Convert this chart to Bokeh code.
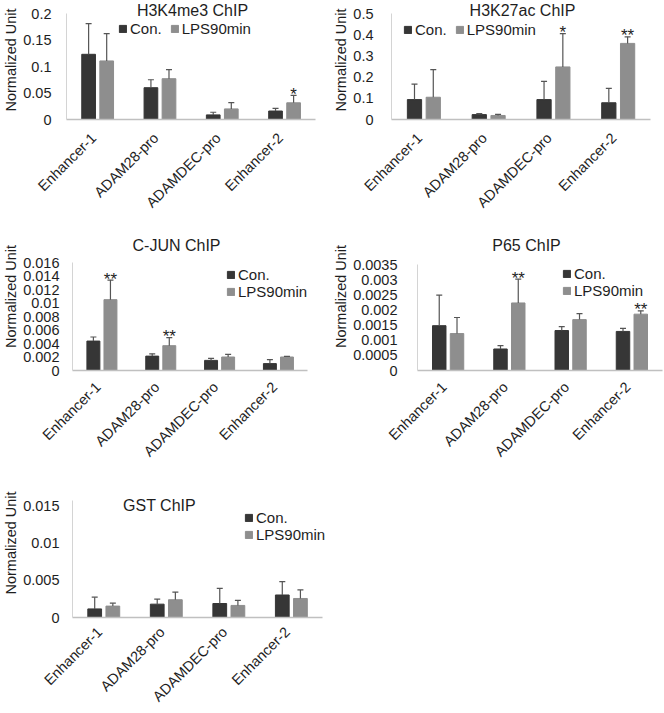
import math
from bokeh.plotting import figure
from bokeh.models import (ColumnDataSource, Range1d, FixedTicker,
                          Label, Legend, LegendItem)
from bokeh.transform import dodge
from bokeh.layouts import column, row
from bokeh.embed import file_html
from bokeh.resources import INLINE
from bokeh.core.properties import value

# ---------------- data ----------------
categories = ["Enhancer-1", "ADAM28-pro", "ADAMDEC-pro", "Enhancer-2"]
series_names = ["Con.", "LPS90min"]

h3k4me3_con = [0.123, 0.060, 0.0087, 0.016]
h3k4me3_con_err = [0.058, 0.015, 0.005, 0.005]
h3k4me3_lps = [0.1105, 0.077, 0.020, 0.0315]
h3k4me3_lps_err = [0.0515, 0.017, 0.012, 0.014]
h3k4me3_sig = ["", "", "", "*"]
h3k4me3_ticks = [0, 0.05, 0.1, 0.15, 0.2]
h3k4me3_tick_labels = ["0", "0.05", "0.1", "0.15", "0.2"]

h3k27ac_con = [0.094, 0.023, 0.094, 0.079]
h3k27ac_con_err = [0.073, 0.005, 0.086, 0.068]
h3k27ac_lps = [0.105, 0.019, 0.248, 0.359]
h3k27ac_lps_err = [0.13, 0.005, 0.157, 0.031]
h3k27ac_sig = ["", "", "*", "**"]
h3k27ac_ticks = [0, 0.1, 0.2, 0.3, 0.4, 0.5]
h3k27ac_tick_labels = ["0", "0.1", "0.2", "0.3", "0.4", "0.5"]

cjun_con = [0.00436, 0.00213, 0.0015, 0.00102]
cjun_con_err = [0.0006, 0.00034, 0.0003, 0.0006]
cjun_lps = [0.0105, 0.00368, 0.0020, 0.0020]
cjun_lps_err = [0.0029, 0.0012, 0.0004, 0.0001]
cjun_sig = ["**", "**", "", ""]
cjun_ticks = [0, 0.002, 0.004, 0.006, 0.008, 0.01, 0.012, 0.014, 0.016]
cjun_tick_labels = ["0", "0.002", "0.004", "0.006", "0.008", "0.01", "0.012", "0.014", "0.016"]

p65_con = [0.00148, 0.00071, 0.00132, 0.00129]
p65_con_err = [0.00101, 0.00011, 0.00013, 0.0001]
p65_lps = [0.00122, 0.00223, 0.00168, 0.00186]
p65_lps_err = [0.00053, 0.00079, 0.0002, 0.00011]
p65_sig = ["", "**", "", "**"]
p65_ticks = [0, 0.0005, 0.001, 0.0015, 0.002, 0.0025, 0.003, 0.0035]
p65_tick_labels = ["0", "0.0005", "0.001", "0.0015", "0.002", "0.0025", "0.003", "0.0035"]

gst_con = [0.00116, 0.0018, 0.00189, 0.00304]
gst_con_err = [0.00158, 0.00069, 0.00205, 0.0018]
gst_lps = [0.00154, 0.0024, 0.00163, 0.00257]
gst_lps_err = [0.00039, 0.00103, 0.00068, 0.00116]
gst_sig = ["", "", "", ""]
gst_ticks = [0, 0.005, 0.01, 0.015]
gst_tick_labels = ["0", "0.005", "0.01", "0.015"]

# ---------------- style ----------------
FONT = "Liberation Sans"
DARK = "#363636"
LIGHT = "#8e8e8e"
ERR = "#555555"
TXT = "#1e1e1e"
OFF = 0.145
BAR_W = 0.22
LABEL_SHIFT = -0.065   # nudges the slanted category labels a little to the left


def make_panel(title, con, con_err, lps, lps_err, sig, y_axis_max, ticks, tick_labels,
               fig, axis_box, title_c, leg, ytick_standoff, xlab_standoff):
    # fig: (left, top, width, height) of the figure on the page
    # axis_box: (axis left x, axis right x, y of axis max, y of zero) on the page
    fl, ft, fw, fh = fig
    AL, AR, AT, AB = axis_box
    L, R, T, B = AL, fl + fw, ft, AB          # frame fills the panel top/right
    n = len(categories)
    x_end = n * (R - AL) / (AR - AL)
    y_end = y_axis_max * (B - T) / (AB - AT)
    p = figure(x_range=Range1d(0, x_end), y_range=Range1d(0, y_end),
               width=fw, height=fh, title=None,
               output_backend="svg", toolbar_location=None,
               min_border_left=L - fl, min_border_right=0,
               min_border_top=0, min_border_bottom=ft + fh - B)
    p.outline_line_color = None
    p.background_fill_color = "white"
    p.border_fill_color = "white"
    p.xgrid.visible = False
    p.ygrid.visible = False

    xpos = [i + 0.5 for i in range(n)]
    src = ColumnDataSource(dict(
        x=xpos, con=con, lps=lps,
        con_top=[v + e for v, e in zip(con, con_err)],
        lps_top=[v + e for v, e in zip(lps, lps_err)],
        sig=sig))
    xc = dodge("x", -OFF)
    xl = dodge("x", OFF)

    r_con = p.vbar(x=xc, top="con", width=BAR_W, source=src,
                   fill_color=DARK, line_color=DARK)
    r_lps = p.vbar(x=xl, top="lps", width=BAR_W, source=src,
                   fill_color=LIGHT, line_color=LIGHT)
    for xx, y0, y1 in ((xc, "con", "con_top"), (xl, "lps", "lps_top")):
        p.segment(x0=xx, y0=y0, x1=xx, y1=y1, source=src,
                  line_color=ERR, line_width=1.2)
        p.scatter(x=xx, y=y1, marker="dash", size=6, source=src,
                  line_color=ERR, line_width=1.2)
    p.text(x=xl, y="lps_top", text="sig", source=src, text_align="center",
           text_baseline="alphabetic", y_offset=-1,
           text_font=value(FONT), text_font_size="17px", text_color=TXT)

    # y axis
    p.yaxis.bounds = (0, y_axis_max)
    p.yaxis.ticker = FixedTicker(ticks=ticks)
    p.yaxis.major_label_overrides = dict(zip(ticks, tick_labels))
    p.yaxis.axis_label = "Normalized Unit"
    p.yaxis.axis_label_text_font = FONT
    p.yaxis.axis_label_text_font_size = "14.5px"
    p.yaxis.axis_label_text_font_style = "normal"
    p.yaxis.axis_label_text_color = TXT
    p.yaxis.axis_label_standoff = 1
    p.yaxis.major_label_standoff = ytick_standoff
    p.yaxis.major_label_text_font = FONT
    p.yaxis.major_label_text_font_size = "14.5px"
    p.yaxis.major_label_text_color = TXT
    p.yaxis.axis_line_color = "#d4d4d4"
    p.yaxis.major_tick_line_color = None
    p.yaxis.minor_tick_line_color = None

    # x axis (categories)
    label_pos = [x + LABEL_SHIFT for x in xpos]
    p.xaxis.bounds = (0, n)
    p.xaxis.ticker = FixedTicker(ticks=label_pos)
    p.xaxis.major_label_overrides = dict(zip(label_pos, categories))
    p.xaxis.major_label_orientation = math.pi / 4
    p.xaxis.major_label_standoff = xlab_standoff
    p.xaxis.axis_label_standoff = 0
    p.xaxis.major_label_text_font = FONT
    p.xaxis.major_label_text_font_size = "14.5px"
    p.xaxis.major_label_text_color = TXT
    p.xaxis.axis_line_color = "#c0c0c0"
    p.xaxis.axis_line_width = 1.3
    p.xaxis.major_tick_line_color = None
    p.xaxis.minor_tick_line_color = None

    # title
    cx, cy = title_c
    p.add_layout(Label(x=cx - L, y=B - cy, x_units="screen", y_units="screen",
                       text=title, text_align="center", text_baseline="middle",
                       text_font=FONT, text_font_size="16px", text_color=TXT))

    # legend
    lx, ly, orient, spacing = leg
    legend = Legend(items=[LegendItem(label=series_names[0], renderers=[r_con]),
                           LegendItem(label=series_names[1], renderers=[r_lps])],
                    location=(lx - L, B - ly), orientation=orient,
                    glyph_width=9, glyph_height=9, label_standoff=3,
                    spacing=spacing, padding=0, margin=0,
                    label_height=16, label_width=10,
                    background_fill_alpha=0, border_line_alpha=0,
                    label_text_font=FONT, label_text_font_size="15px",
                    label_text_color=TXT)
    p.add_layout(legend)
    return p


# leg tuple: (left x, bottom y on the page, orientation, spacing)
p1 = make_panel("H3K4me3 ChIP", h3k4me3_con, h3k4me3_con_err, h3k4me3_lps,
                h3k4me3_lps_err, h3k4me3_sig, 0.2, h3k4me3_ticks, h3k4me3_tick_labels,
                fig=(0, 0, 330, 222), axis_box=(62, 315, 13, 119), title_c=(188, 10),
                leg=(114, 37, "horizontal", 8), ytick_standoff=9, xlab_standoff=10)
p2 = make_panel("H3K27ac ChIP", h3k27ac_con, h3k27ac_con_err, h3k27ac_lps,
                h3k27ac_lps_err, h3k27ac_sig, 0.5, h3k27ac_ticks, h3k27ac_tick_labels,
                fig=(330, 0, 334, 222), axis_box=(389, 650, 13, 119), title_c=(520, 10),
                leg=(401, 38, "horizontal", 8), ytick_standoff=12, xlab_standoff=10)
p3 = make_panel("C-JUN ChIP", cjun_con, cjun_con_err, cjun_lps, cjun_lps_err,
                cjun_sig, 0.016, cjun_ticks, cjun_tick_labels,
                fig=(0, 222, 330, 246), axis_box=(68, 307, 262, 370), title_c=(172, 245),
                leg=(222, 300, "vertical", 0), ytick_standoff=7, xlab_standoff=8)
p4 = make_panel("P65 ChIP", p65_con, p65_con_err, p65_lps, p65_lps_err,
                p65_sig, 0.0035, p65_ticks, p65_tick_labels,
                fig=(330, 222, 334, 246), axis_box=(416, 662, 264, 370), title_c=(525, 245),
                leg=(561, 299, "vertical", 0), ytick_standoff=14, xlab_standoff=8)
p5 = make_panel("GST ChIP", gst_con, gst_con_err, gst_lps, gst_lps_err,
                gst_sig, 0.0158, gst_ticks, gst_tick_labels,
                fig=(0, 468, 330, 245), axis_box=(68, 322, 500, 617), title_c=(155, 505),
                leg=(240, 543, "vertical", 0), ytick_standoff=7, xlab_standoff=6)

layout = column(row(p1, p2), row(p3, p4), p5)
open("out.html", "w").write(file_html(layout, INLINE))
